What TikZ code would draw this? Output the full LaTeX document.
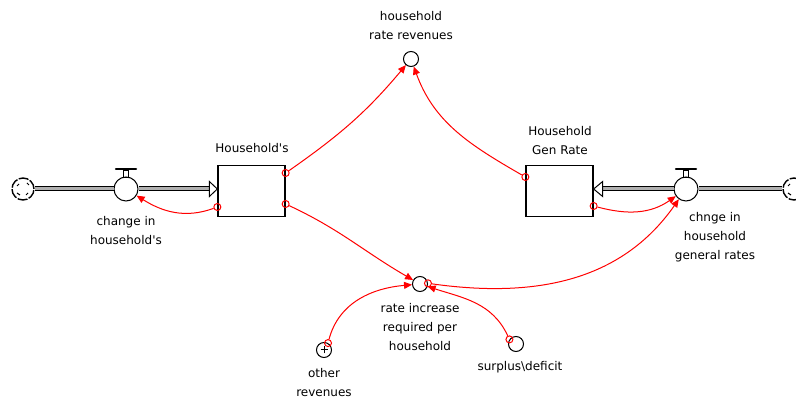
\documentclass[tikz,border=0pt]{standalone}
\usepackage{fontspec}
\setmainfont{DejaVu Sans}
\usepackage{xcolor}
\usetikzlibrary{arrows.meta}
\definecolor{C0}{HTML}{FF0000}
\definecolor{C1}{HTML}{B0B0B0}

\begin{document}
\begin{tikzpicture}[x=1pt,y=1pt,line width=1pt,
  every node/.style={font=\fontsize{12}{19}\selectfont},
  lbl/.style={align=center,inner sep=0pt},
  stock/.style={draw,line width=1.3pt,minimum width=67,minimum height=51,inner sep=0},
  aux/.style={circle,draw,minimum size=15,inner sep=0},
  port/.style={circle,draw=C0,minimum size=7,inner sep=0},
  link/.style={draw=C0,-{Triangle[length=8pt,width=7pt]}},
  pipe/.style={double=C1,double distance=3pt}]

\useasboundingbox (0,0) rectangle (796,399);

\tikzset{
pics/valve/.style = {
background code = {
		\node (-c) at (0,0) [circle,draw,fill=white,minimum size=24,inner sep=0] {};
		\draw (-2.5,11.5) rectangle (2.5,18);
		\draw[line width=2.5pt,line cap=round] (-10,20) -- (10,20);
}
}
}

\tikzset{
pics/cloud/.style = {
background code = {
		\node (-c) at (0,0) [circle,minimum size=23,inner sep=0] {};
		\draw[line width=1.4pt,dash pattern=on 10pt off 1.5pt] (0,0) circle (11);
		\draw (-6,3) -- (-4,5) (4,6) -- (6,4) (-6,-4) -- (-3,-6) (3,-6) -- (5,-4);
}
}
}

% stocks
\node[stock] (hh) at (251.5,208) {};
\node[stock] (gen) at (559.5,208) {};
\node[lbl] (hh-l) at (252,251) {Household\textquotesingle s};
\node[lbl] (gen-l) at (560,258) {Household\\Gen Rate};

% flows
\pic(cl) at (23,210) {cloud};
\pic(vl) at (126,210) {valve};
\pic(vr) at (686,210) {valve};
\pic(cr) at (794,210) {cloud};

\coordinate (hh-in) at ([xshift=-8]hh.west |- vl-c);
\coordinate (gen-in) at ([xshift=9]gen.east |- vr-c);

\draw[pipe] (cl-c) -- (vl-c);
\draw[pipe] (vl-c) -- (hh-in);
\draw[pipe] (cr-c) -- (vr-c);
\draw[pipe] (vr-c) -- (gen-in);
\draw[fill=white] (hh.west |- vl-c) -- ([yshift=7.5]hh-in) -- ([yshift=-7.5]hh-in) -- cycle;
\draw[fill=white] (gen.east |- vr-c) -- ([yshift=7.5]gen-in) -- ([yshift=-7.5]gen-in) -- cycle;

\node[lbl] (vl-l) at (126,168.5) {change in\\household\textquotesingle s};
\node[lbl] (vr-l) at (715,162) {chnge in\\household\\general rates};

% auxiliaries
\node[aux] (hrr) at (411,340) {};
\node[aux] (ri) at (420,115) {};
\node[aux] (or) at (324,49) {};
\node[aux] (sd) at (516,55) {};
\draw ([xshift=-3.5]or.center) -- ([xshift=3.5]or.center);
\draw ([yshift=-3.5]or.center) -- ([yshift=3.5]or.center);

\node[lbl] (hrr-l) at (411,373) {household\\rate revenues};
\node[lbl] (ri-l) at (420,72) {rate increase\\required per\\household};
\node[lbl] (or-l) at (324,16) {other\\revenues};
\node[lbl] (sd-l) at (520,32) {surplus\textbackslash deficit};

% connector ports
\node[port] (hh-a) at ([yshift=18]hh.east) {};
\node[port] (hh-b) at ([yshift=-13]hh.east) {};
\node[port] (hh-c) at ([yshift=-16]hh.west) {};
\node[port] (gen-a) at ([yshift=14]gen.west) {};
\node[port] (gen-b) at ([yshift=-15]gen.east) {};
\node[port] (ri-p) at (ri.5) {};
\node[port] (or-p) at (or.60) {};
\node[port] (sd-p) at (sd.145) {};

\draw[link] (hh-a) to [out=35,in=230] (hrr);
\draw[link] (gen-a) to [out=150,in=-70] (hrr);
\draw[link] (hh-c) to [out=200,in=-32] (vl-c);
\draw[link] (hh-b) to [out=-25,in=150] (ri);
\draw[link] (gen-b) to [out=-15,in=215] (vr-c);
\draw[link] (ri-p) to [out=-8,in=235] (vr-c);
\draw[link] (or-p) to [out=75,in=185] (ri);
\draw[link] (sd-p) to [out=115,in=-18] (ri);

\end{tikzpicture}
\end{document}
